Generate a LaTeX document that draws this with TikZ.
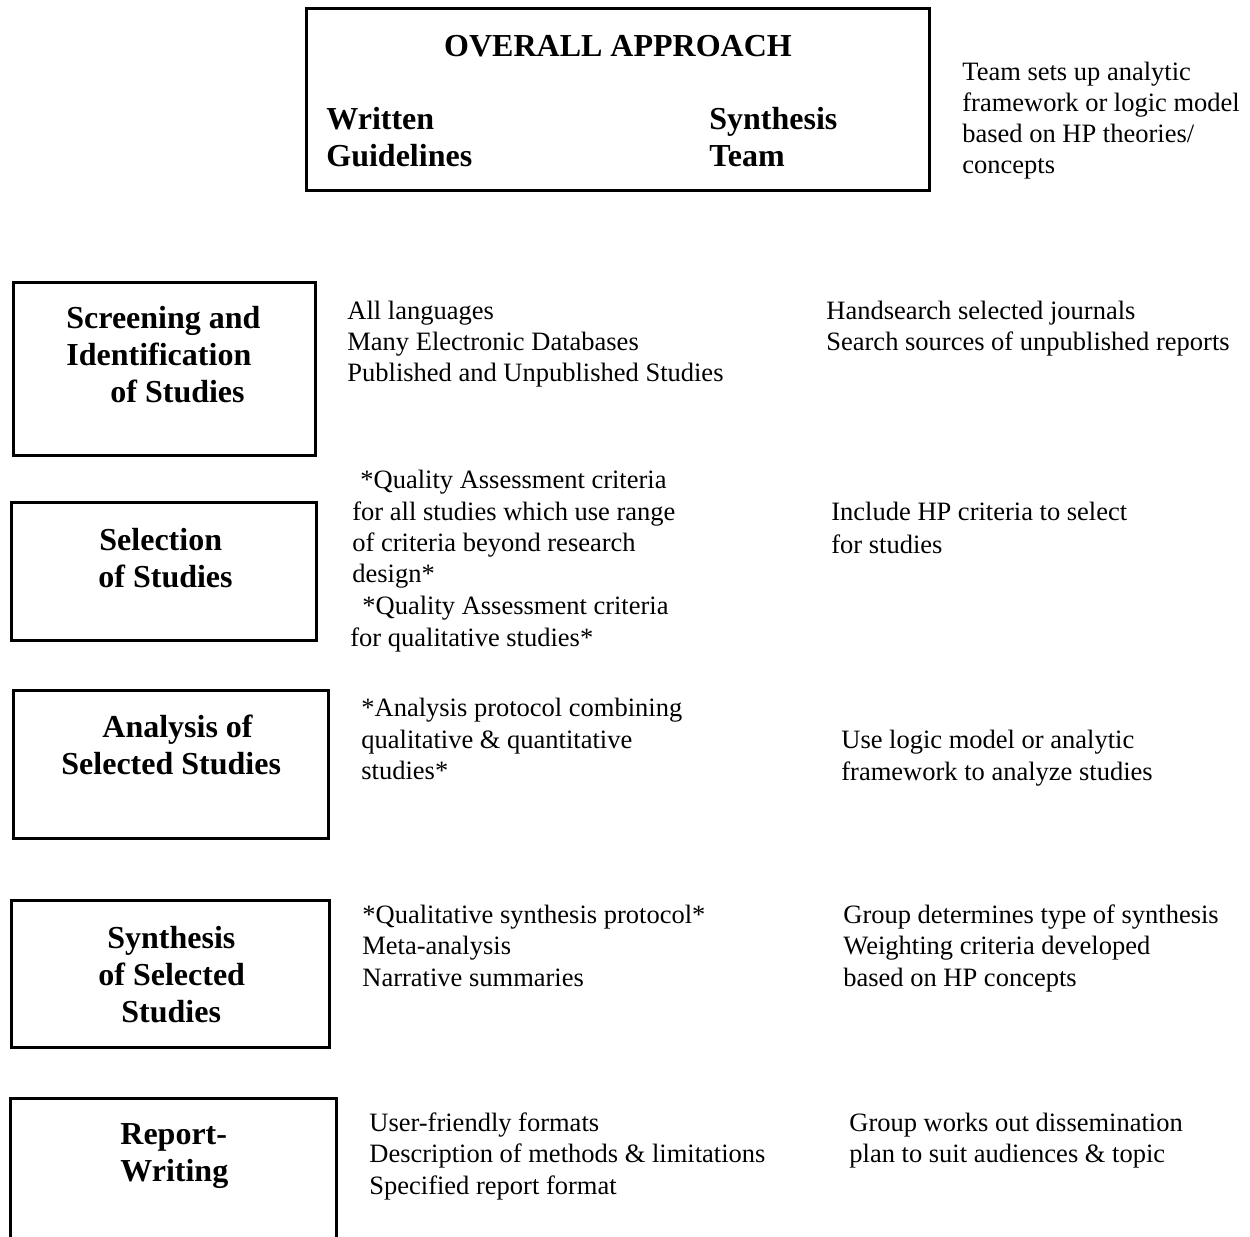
\documentclass[tikz,border=0pt]{standalone}
\usepackage{fontspec}
\setmainfont{Liberation Serif}
\begin{document}
\begin{tikzpicture}[x=0.5pt,y=-0.5pt,
  boxline/.style={line width=1.5pt,draw=black},
  bt/.style={anchor=base west,inner sep=0pt,font=\fontsize{16pt}{18.5pt}\selectfont\bfseries},
  rt/.style={anchor=base west,inner sep=0pt,font=\fontsize{13.25pt}{15.5pt}\selectfont}]
\useasboundingbox (0,0) rectangle (1250,1237);
\fill[white] (0,0) rectangle (1250,1237);

% boxes
\draw[boxline] (306,8) rectangle (929,190);
\draw[boxline] (13,282) rectangle (315,455);
\draw[boxline] (11,502) rectangle (316,640);
\draw[boxline] (13,690) rectangle (328,838);
\draw[boxline] (11,900) rectangle (329,1047);
\draw[boxline] (10,1240) -- (10,1098) -- (336,1098) -- (336,1240);

% top box
\node[bt,anchor=base] (oa) at (618,56) {OVERALL APPROACH};
\node[bt] (wg1) at (326,129) {Written};
\node[bt] (wg2) at (326,166) {Guidelines};
\node[bt] (st1) at (709,129) {Synthesis};
\node[bt] (st2) at (709,166) {Team};
\node[rt] (tr1) at (962,80) {Team sets up analytic};
\node[rt] (tr2) at (962,111) {framework or logic model};
\node[rt] (tr3) at (962,142) {based on HP theories/};
\node[rt] (tr4) at (962,173) {concepts};

% row 1
\node[bt] (s1a) at (66,328) {Screening and};
\node[bt] (s1b) at (66,365) {Identification};
\node[bt] (s1c) at (110,402) {of Studies};
\node[rt] (m1a) at (347,319) {All languages};
\node[rt] (m1b) at (347,350) {Many Electronic Databases};
\node[rt] (m1c) at (347,381) {Published and Unpublished Studies};
\node[rt] (r1a) at (826,319) {Handsearch selected journals};
\node[rt] (r1b) at (826,350) {Search sources of unpublished reports};

% row 2
\node[bt] (s2a) at (99,550) {Selection};
\node[bt] (s2b) at (98,587) {of Studies};
\node[rt] (m2a) at (360,488) {*Quality Assessment criteria};
\node[rt] (m2b) at (352,520) {for all studies which use range};
\node[rt] (m2c) at (352,551) {of criteria beyond research};
\node[rt] (m2d) at (352,582) {design*};
\node[rt] (m2e) at (362,614) {*Quality Assessment criteria};
\node[rt] (m2f) at (350,646) {for qualitative studies*};
\node[rt] (r2a) at (831,520) {Include HP criteria to select};
\node[rt] (r2b) at (831,553) {for studies};

% row 3
\node[bt] (s3a) at (102,737) {Analysis of};
\node[bt] (s3b) at (61,774) {Selected Studies};
\node[rt] (m3a) at (361,716) {*Analysis protocol combining};
\node[rt] (m3b) at (361,748) {qualitative \& quantitative};
\node[rt] (m3c) at (361,779) {studies*};
\node[rt] (r3a) at (841,748) {Use logic model or analytic};
\node[rt] (r3b) at (841,780) {framework to analyze studies};

% row 4
\node[bt] (s4a) at (107,948) {Synthesis};
\node[bt] (s4b) at (98,985) {of Selected};
\node[bt] (s4c) at (121,1022) {Studies};
\node[rt] (m4a) at (362,923) {*Qualitative synthesis protocol*};
\node[rt] (m4b) at (362,954) {Meta-analysis};
\node[rt] (m4c) at (362,986) {Narrative summaries};
\node[rt] (r4a) at (843,923) {Group determines type of synthesis};
\node[rt] (r4b) at (843,954) {Weighting criteria developed};
\node[rt] (r4c) at (843,986) {based on HP concepts};

% row 5
\node[bt] (s5a) at (120,1144) {Report-};
\node[bt] (s5b) at (120,1181) {Writing};
\node[rt] (m5a) at (369,1131) {User-friendly formats};
\node[rt] (m5b) at (369,1162) {Description of methods \& limitations};
\node[rt] (m5c) at (369,1194) {Specified report format};
\node[rt] (r5a) at (849,1131) {Group works out dissemination};
\node[rt] (r5b) at (849,1162) {plan to suit audiences \& topic};
\end{tikzpicture}
\end{document}
